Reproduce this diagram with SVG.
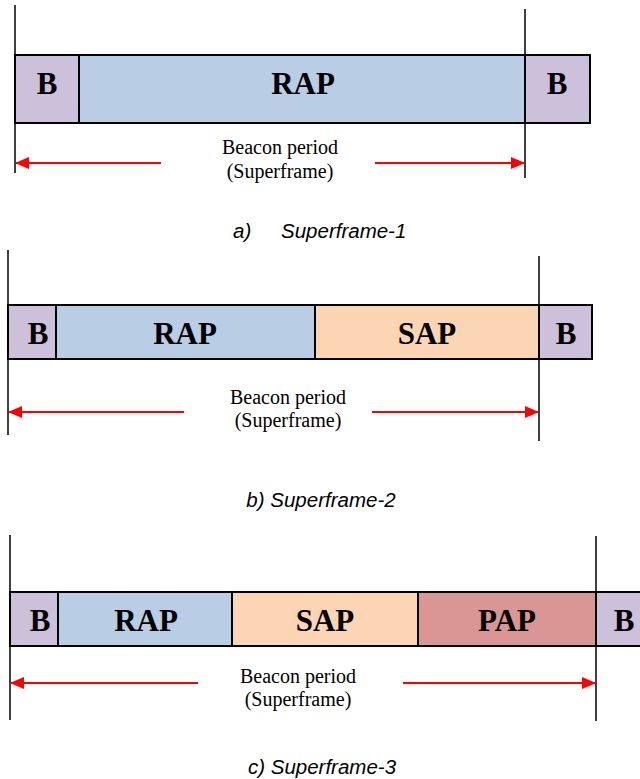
<svg xmlns="http://www.w3.org/2000/svg" width="640" height="779" viewBox="0 0 640 779">
<style>
.bx{stroke:#000;stroke-width:2}
.b{fill:#CCC0DA}.rap{fill:#B9CDE5}.sap{fill:#FCD5B5}.pap{fill:#D99694}
.lbl{font-family:"Liberation Serif",serif;font-weight:bold;font-size:31px;text-anchor:middle;fill:#000}
.per{font-family:"Liberation Serif",serif;font-size:20px;text-anchor:middle;fill:#000}
.cap{font-family:"Liberation Sans",Arial,sans-serif;font-style:italic;font-size:20.5px;fill:#000}
.vl{stroke:#000;stroke-width:1.5}
.ar{stroke:#f00;stroke-width:2;fill:none;marker-end:url(#ah)}
</style>
<defs>
<marker id="ah" markerWidth="14" markerHeight="12" refX="13" refY="6" orient="auto" markerUnits="userSpaceOnUse">
<path d="M0,0 L14,6 L0,12 Z" fill="#f00"/>
</marker>
</defs>
<rect width="640" height="779" fill="#fff"/>

<!-- Panel a -->
<g id="a-b1"><rect class="bx b" x="15" y="55" width="64" height="68"/><text class="lbl" x="47" y="94">B</text></g>
<g id="a-rap"><rect class="bx rap" x="79" y="55" width="446" height="68"/><text class="lbl" x="303" y="94">RAP</text></g>
<g id="a-b2"><rect class="bx b" x="525" y="55" width="65" height="68"/><text class="lbl" x="557" y="94">B</text></g>
<g id="a-label"><text class="per" x="280" y="154">Beacon period</text><text class="per" x="280" y="178">(Superframe)</text></g>
<text class="cap" x="233" y="238">a)</text>
<text class="cap" x="281" y="238">Superframe-1</text>

<!-- Panel b -->
<g id="b-b1"><rect class="bx b" x="8" y="305" width="48" height="54"/><text class="lbl" x="38" y="344">B</text></g>
<g id="b-rap"><rect class="bx rap" x="56" y="305" width="259" height="54"/><text class="lbl" x="185" y="344">RAP</text></g>
<g id="b-sap"><rect class="bx sap" x="315" y="305" width="224" height="54"/><text class="lbl" x="427" y="344">SAP</text></g>
<g id="b-b2"><rect class="bx b" x="539" y="305" width="53" height="54"/><text class="lbl" x="566" y="344">B</text></g>
<g id="b-label"><text class="per" x="288" y="404">Beacon period</text><text class="per" x="288" y="427">(Superframe)</text></g>
<text class="cap" x="321" y="507" text-anchor="middle">b) Superframe-2</text>

<!-- Panel c -->
<g id="c-b1"><rect class="bx b" x="10" y="592" width="48" height="54"/><text class="lbl" x="40" y="631">B</text></g>
<g id="c-rap"><rect class="bx rap" x="58" y="592" width="174" height="54"/><text class="lbl" x="146" y="631">RAP</text></g>
<g id="c-sap"><rect class="bx sap" x="232" y="592" width="186" height="54"/><text class="lbl" x="325" y="631">SAP</text></g>
<g id="c-pap"><rect class="bx pap" x="418" y="592" width="178" height="54"/><text class="lbl" x="507" y="631">PAP</text></g>
<g id="c-b2"><rect class="bx b" x="596" y="592" width="50" height="54"/><text class="lbl" x="624" y="631">B</text></g>
<g id="c-label"><text class="per" x="298" y="683">Beacon period</text><text class="per" x="298" y="706">(Superframe)</text></g>
<text class="cap" x="322" y="774" text-anchor="middle">c) Superframe-3</text>

<g id="connectors">
<line class="vl" x1="15" y1="5" x2="15" y2="173"/>
<line class="vl" x1="525" y1="9" x2="525" y2="178"/>
<line class="ar" x1="161" y1="163" x2="16" y2="163"/>
<line class="ar" x1="375" y1="163" x2="524" y2="163"/>

<line class="vl" x1="8" y1="250" x2="8" y2="435"/>
<line class="vl" x1="539" y1="256" x2="539" y2="441"/>
<line class="ar" x1="184" y1="412" x2="9" y2="412"/>
<line class="ar" x1="372" y1="412" x2="538" y2="412"/>

<line class="vl" x1="10" y1="535" x2="10" y2="720"/>
<line class="vl" x1="596" y1="536" x2="596" y2="721"/>
<line class="ar" x1="198" y1="683" x2="11" y2="683"/>
<line class="ar" x1="403" y1="683" x2="595" y2="683"/>
</g>
</svg>
